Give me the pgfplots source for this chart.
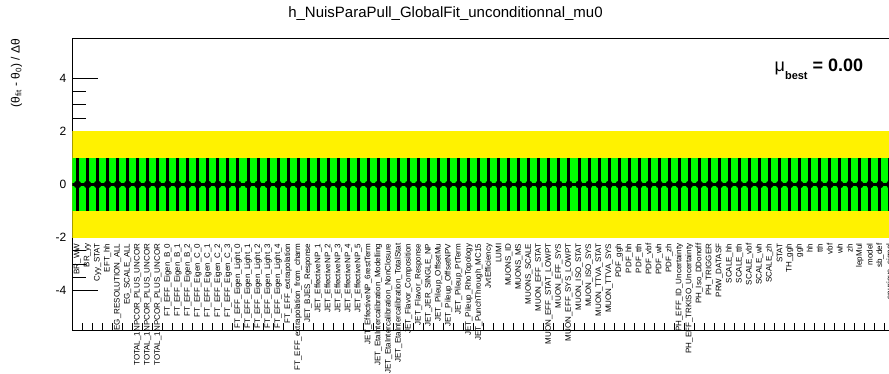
\documentclass[border=0pt]{standalone}
\usepackage{fontspec}
\setmainfont{Liberation Sans}
\usepackage{pgfplots}
\pgfplotsset{compat=1.18}
\begin{document}
\begin{tikzpicture}
\useasboundingbox (-72.5pt,-43.5pt) rectangle (816.5pt,330.5pt);
\clip (-72.5pt,-43.5pt) rectangle (816.5pt,330.5pt);
\begin{axis}[at={(0pt,0pt)}, anchor=south west, scale only axis, clip mode=individual,
  width=822.46pt, height=292pt, xmin=0, xmax=82, ymin=-5.5, ymax=5.5,
  axis lines=box, axis line style={black, line width=1pt},
  tick pos=left,
  ytick={-4,-2,0,2,4}, yticklabels={-4,-2,0,2,4},
  minor y tick num=3, major tick length=25pt, minor tick length=13pt,
  tick style={black, line width=1pt},
  yticklabel style={font=\fontsize{12}{12}\selectfont, inner sep=0pt, xshift=-6pt},
  xtick={0.5,1.5,...,81.5},
  major x tick style={draw=none},
  minor xtick={0,1,...,82},
  minor x tick style={/pgfplots/minor tick length=7pt, black, line width=1pt},
  xticklabel style={yshift=87pt, rotate=90, anchor=east, inner sep=0pt, font=\fontsize{8}{8}\selectfont},
  xticklabels={BR\_WW, BR\_yy, Cyy\_STAT, EFT\_hh, EG\_RESOLUTION\_ALL, EG\_SCALE\_ALL,
    TOTAL\_1NPCOR\_PLUS\_UNCOR, TOTAL\_1NPCOR\_PLUS\_UNCOR, TOTAL\_1NPCOR\_PLUS\_UNCOR,
    FT\_EFF\_Eigen\_B\_0, FT\_EFF\_Eigen\_B\_1, FT\_EFF\_Eigen\_B\_2,
    FT\_EFF\_Eigen\_C\_0, FT\_EFF\_Eigen\_C\_1, FT\_EFF\_Eigen\_C\_2, FT\_EFF\_Eigen\_C\_3,
    FT\_EFF\_Eigen\_Light\_0, FT\_EFF\_Eigen\_Light\_1, FT\_EFF\_Eigen\_Light\_2, FT\_EFF\_Eigen\_Light\_3, FT\_EFF\_Eigen\_Light\_4,
    FT\_EFF\_extrapolation, FT\_EFF\_extrapolation\_from\_charm, JET\_BJES\_Response,
    JET\_EffectiveNP\_1, JET\_EffectiveNP\_2, JET\_EffectiveNP\_3, JET\_EffectiveNP\_4, JET\_EffectiveNP\_5, JET\_EffectiveNP\_6restTerm,
    JET\_EtaIntercalibration\_Modelling, JET\_EtaIntercalibration\_NonClosure, JET\_EtaIntercalibration\_TotalStat,
    JET\_Flavor\_Composition, JET\_Flavor\_Response, JET\_JER\_SINGLE\_NP,
    JET\_Pileup\_OffsetMu, JET\_Pileup\_OffsetNPV, JET\_Pileup\_PtTerm, JET\_Pileup\_RhoTopology, JET\_PunchThrough\_MC15,
    JvtEfficiency, LUMI, MUONS\_ID, MUONS\_MS, MUONS\_SCALE,
    MUON\_EFF\_STAT, MUON\_EFF\_STAT\_LOWPT, MUON\_EFF\_SYS, MUON\_EFF\_SYS\_LOWPT,
    MUON\_ISO\_STAT, MUON\_ISO\_SYS, MUON\_TTVA\_STAT, MUON\_TTVA\_SYS,
    PDF\_ggh, PDF\_hh, PDF\_tth, PDF\_vbf, PDF\_wh, PDF\_zh,
    PH\_EFF\_ID\_Uncertainty, PH\_EFF\_TRKISO\_Uncertainty, PH\_Iso\_DDonoff, PH\_TRIGGER, PRW\_DATASF,
    SCALE\_hh, SCALE\_tth, SCALE\_vbf, SCALE\_wh, SCALE\_zh, STAT, TH\_ggh,
    ggh, hh, tth, vbf, wh, zh, lepMul, model, sb\_def, spurious\_signal},
  title={h\_NuisParaPull\_GlobalFit\_unconditionnal\_mu0},
  title style={at={(rel axis cs:0.4535,1)}, anchor=center, yshift=19pt, inner sep=0pt, font=\fontsize{15}{15}\selectfont}]
\addplot[fill=yellow, draw=none] coordinates {(0,-2) (82,-2) (82,2) (0,2)} -- cycle;
\addplot[fill=green, draw=none] coordinates {(0,-1) (82,-1) (82,1) (0,1)} -- cycle;
\addplot[black, only marks, mark=*, mark size=3.6pt,
  error bars/.cd, x dir=both, x explicit, y dir=both, y explicit, error mark=none,
  error bar style={line width=3pt, black}]
coordinates {
(0.5,0) +- (0.5,1) (1.5,0) +- (0.5,1) (2.5,0) +- (0.5,1) (3.5,0) +- (0.5,1) (4.5,0) +- (0.5,1)
(5.5,0) +- (0.5,1) (6.5,0) +- (0.5,1) (7.5,0) +- (0.5,1) (8.5,0) +- (0.5,1) (9.5,0) +- (0.5,1)
(10.5,0) +- (0.5,1) (11.5,0) +- (0.5,1) (12.5,0) +- (0.5,1) (13.5,0) +- (0.5,1) (14.5,0) +- (0.5,1)
(15.5,0) +- (0.5,1) (16.5,0) +- (0.5,1) (17.5,0) +- (0.5,1) (18.5,0) +- (0.5,1) (19.5,0) +- (0.5,1)
(20.5,0) +- (0.5,1) (21.5,0) +- (0.5,1) (22.5,0) +- (0.5,1) (23.5,0) +- (0.5,1) (24.5,0) +- (0.5,1)
(25.5,0) +- (0.5,1) (26.5,0) +- (0.5,1) (27.5,0) +- (0.5,1) (28.5,0) +- (0.5,1) (29.5,0) +- (0.5,1)
(30.5,0) +- (0.5,1) (31.5,0) +- (0.5,1) (32.5,0) +- (0.5,1) (33.5,0) +- (0.5,1) (34.5,0) +- (0.5,1)
(35.5,0) +- (0.5,1) (36.5,0) +- (0.5,1) (37.5,0) +- (0.5,1) (38.5,0) +- (0.5,1) (39.5,0) +- (0.5,1)
(40.5,0) +- (0.5,1) (41.5,0) +- (0.5,1) (42.5,0) +- (0.5,1) (43.5,0) +- (0.5,1) (44.5,0) +- (0.5,1)
(45.5,0) +- (0.5,1) (46.5,0) +- (0.5,1) (47.5,0) +- (0.5,1) (48.5,0) +- (0.5,1) (49.5,0) +- (0.5,1)
(50.5,0) +- (0.5,1) (51.5,0) +- (0.5,1) (52.5,0) +- (0.5,1) (53.5,0) +- (0.5,1) (54.5,0) +- (0.5,1)
(55.5,0) +- (0.5,1) (56.5,0) +- (0.5,1) (57.5,0) +- (0.5,1) (58.5,0) +- (0.5,1) (59.5,0) +- (0.5,1)
(60.5,0) +- (0.5,1) (61.5,0) +- (0.5,1) (62.5,0) +- (0.5,1) (63.5,0) +- (0.5,1) (64.5,0) +- (0.5,1)
(65.5,0) +- (0.5,1) (66.5,0) +- (0.5,1) (67.5,0) +- (0.5,1) (68.5,0) +- (0.5,1) (69.5,0) +- (0.5,1)
(70.5,0) +- (0.5,1) (71.5,0) +- (0.5,1) (72.5,0) +- (0.5,1) (73.5,0) +- (0.5,1) (74.5,0) +- (0.5,1)
(75.5,0) +- (0.5,1) (76.5,0) +- (0.5,1) (77.5,0) +- (0.5,1) (78.5,0) +- (0.5,1) (79.5,0) +- (0.5,1)
(80.5,0) +- (0.5,1) (81.5,0) +- (0.5,1)
};
\node[rotate=90, anchor=east, inner sep=0pt, font=\fontsize{12}{12}\selectfont] at (rel axis cs:-0.0681,1)
  {(θ\textsubscript{fit} - θ\textsubscript{0}) / Δθ};
\node[anchor=base west, inner sep=0pt, font=\fontsize{18}{18}\selectfont] at (rel axis cs:0.8535,0.887)
  {μ\raisebox{-8pt}{\fontsize{11}{11}\selectfont\bfseries best} \textbf{= 0.00}};
\end{axis}
\end{tikzpicture}
\end{document}
